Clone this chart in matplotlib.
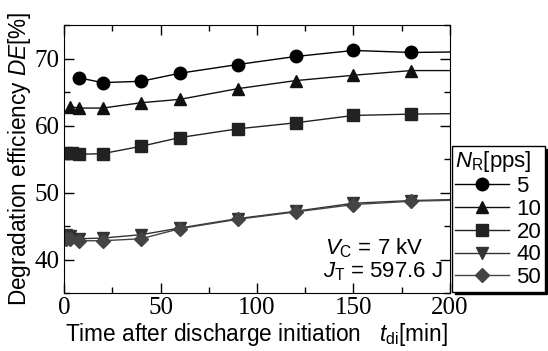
import matplotlib
matplotlib.use("Agg")
import matplotlib.pyplot as plt
from matplotlib.ticker import MultipleLocator

plt.rcParams['font.family'] = ['Liberation Sans', 'DejaVu Sans']
plt.rcParams['mathtext.fontset'] = 'custom'
plt.rcParams['mathtext.rm'] = 'Liberation Sans'
plt.rcParams['mathtext.it'] = 'Liberation Sans:italic'

# data (t in min, DE in %)
t5 = [8, 20, 40, 60, 90, 120, 150, 180, 210]
de5 = [67.1, 66.4, 66.6, 67.8, 69.1, 70.3, 71.2, 70.9, 71.0]
t10 = [3, 8, 20, 40, 60, 90, 120, 150, 180, 210]
de10 = [62.8, 62.6, 62.6, 63.4, 63.9, 65.5, 66.7, 67.5, 68.2, 68.2]
t20 = [1, 4, 8, 20, 40, 60, 90, 120, 150, 180, 210]
de20 = [55.9, 55.9, 55.7, 55.8, 56.9, 58.2, 59.5, 60.4, 61.5, 61.7, 61.8]
t40 = [1, 3, 8, 20, 40, 60, 90, 120, 150, 180, 210]
de40 = [43.6, 43.5, 43.1, 43.2, 43.7, 44.7, 46.1, 47.2, 48.4, 48.8, 49.0]
t50 = [1, 3, 8, 20, 40, 60, 90, 120, 150, 180, 210]
de50 = [43.0, 43.1, 42.8, 42.8, 43.1, 44.6, 46.0, 47.1, 48.2, 48.7, 48.9]
labels = ['5', '10', '20', '40', '50']

fig = plt.figure(figsize=(5.48, 3.51), dpi=100)
ax = fig.add_axes([64/548, 1-293/351, 386/548, 268/351])

series = [(t5, de5, 'o', '#000000'), (t10, de10, '^', '#111111'),
          (t20, de20, 's', '#222222'), (t40, de40, 'v', '#333333'),
          (t50, de50, 'D', '#444444')]
for (t, de, m, c), lab in zip(series, labels):
    ms = 7 if m == 'D' else 9
    ax.plot(t, de, marker=m, color=c, markersize=ms, linewidth=1.0, label=lab)

ax.set_xlim(0, 200)
ax.set_ylim(35, 75)
ax.xaxis.set_major_locator(MultipleLocator(50))
ax.xaxis.set_minor_locator(MultipleLocator(25))
ax.yaxis.set_major_locator(MultipleLocator(10))
ax.yaxis.set_minor_locator(MultipleLocator(5))
ax.tick_params(which='both', direction='in', top=True, right=True)
ax.tick_params(which='major', length=7, width=1)
ax.tick_params(which='minor', length=4, width=1)
for lab in ax.get_xticklabels() + ax.get_yticklabels():
    lab.set_fontfamily('Liberation Serif')
    lab.set_fontsize(18)
ax.tick_params(axis='x', pad=3)
ax.tick_params(axis='y', pad=3)

ax.set_xlabel(r'Time after discharge initiation   $t_{\rm di}$[min]', fontsize=16.3, labelpad=1.5)
ax.set_ylabel(r'Degradation efficiency $DE$[%]', fontsize=16.3, labelpad=1)

ax.text(135, 40.8, r'$V_{\rm C}$ = 7 kV', fontsize=16)
ax.text(134, 37.4, r'$J_{\rm T}$ = 597.6 J', fontsize=16)

leg = fig.legend(loc='upper left', bbox_to_anchor=(452/548, 1-146/351),
                 title=r'$N_{\rm R}$[pps]', fontsize=16, title_fontsize=16,
                 frameon=True, fancybox=False, edgecolor='black',
                 handlelength=2.4, handletextpad=0.35, labelspacing=0.08,
                 borderpad=0.15, borderaxespad=0,
                 shadow={'color': 'black', 'alpha': 1.0})
leg.get_frame().set_linewidth(1.0)
leg._legend_box.align = 'left'

fig.savefig('out.png', dpi=100)
